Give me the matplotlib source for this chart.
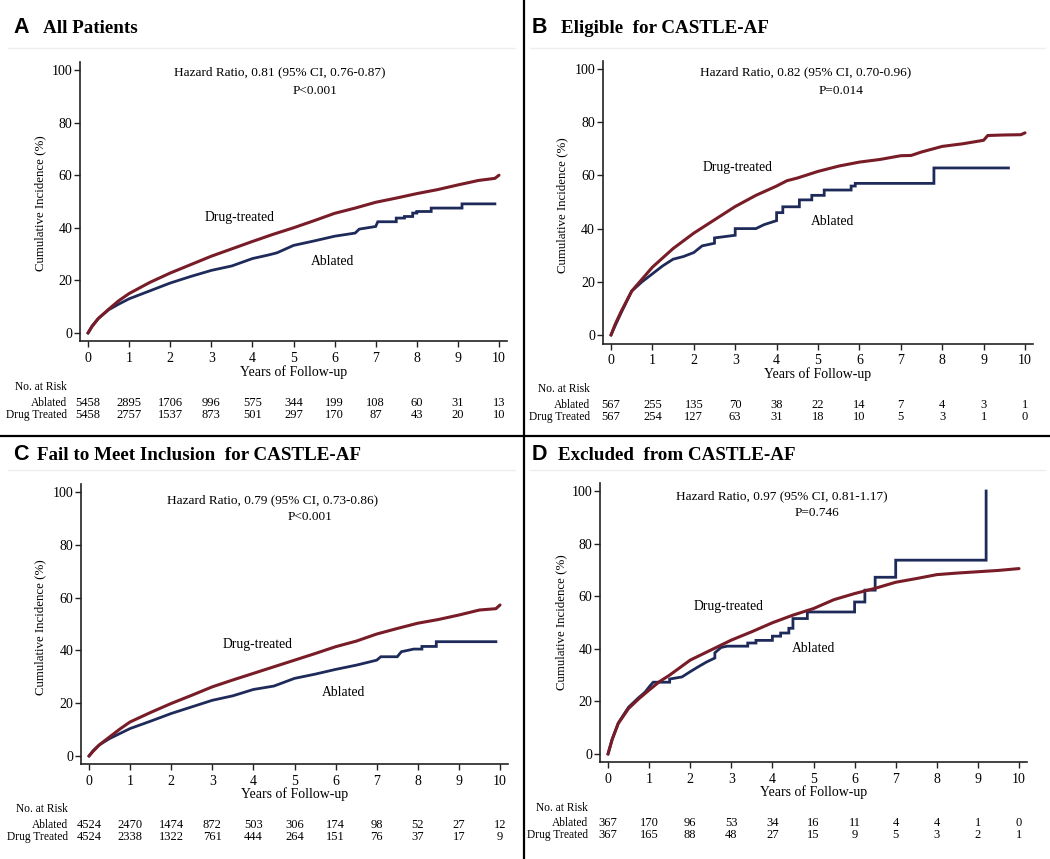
import matplotlib
matplotlib.use("Agg")
import matplotlib.pyplot as plt
from matplotlib.lines import Line2D
from matplotlib.transforms import blended_transform_factory

# ---- data ----
years = [0, 1, 2, 3, 4, 5, 6, 7, 8, 9, 10]

# Panel A: All Patients
a_drug_t = [0, 0.1, 0.25, 0.5, 0.75, 1, 1.5, 2, 2.5, 3, 3.5, 4, 4.5, 5, 5.5, 6, 6.5, 7, 7.5, 8, 8.5, 9, 9.5, 9.9, 10]
a_drug_v = [0, 2.5, 5.5, 9, 12.3, 15, 19.2, 22.8, 26, 29.2, 32, 34.8, 37.5, 40, 42.7, 45.5, 47.5, 49.7, 51.3, 53, 54.5, 56.3, 58, 58.8, 60]
a_abl_t = [0, 0.1, 0.25, 0.5, 0.75, 1, 1.5, 2, 2.5, 3, 3.5, 4, 4.4, 4.6, 5, 5.5, 6, 6.5, 6.6, 7.0, 7.05,
           7.5, 7.5, 7.7, 7.7, 7.9, 7.9, 8.0, 8.0, 8.35, 8.35, 9.1, 9.1, 9.9]
a_abl_v = [0, 2.7, 5.5, 8.8, 11, 13, 16, 19, 21.5, 23.8, 25.5, 28.3, 29.7, 30.5, 33.3, 35, 36.8, 38, 39.5, 40.5, 42.3,
           42.3, 43.7, 43.7, 44.3, 44.3, 45.6, 45.6, 46.2, 46.2, 47.5, 47.5, 49.1, 49.1]
a_risk_abl = [5458, 2895, 1706, 996, 575, 344, 199, 108, 60, 31, 13]
a_risk_drug = [5458, 2757, 1537, 873, 501, 297, 170, 87, 43, 20, 10]

# Panel B: Eligible for CASTLE-AF
b_drug_t = [0, 0.1, 0.25, 0.5, 0.75, 1, 1.25, 1.5, 2, 2.5, 3, 3.5, 4, 4.25, 4.5, 5, 5.5, 6, 6.5, 7, 7.25, 7.5, 8, 8.5, 9, 9.1, 9.5, 9.9, 10]
b_drug_v = [0, 4, 9, 16.5, 21, 25.5, 29, 32.5, 38.3, 43.3, 48.3, 52.5, 56, 58, 59, 61.5, 63.5, 65, 66, 67.4, 67.5, 68.8, 70.9, 71.9, 73.2, 75, 75.2, 75.3, 76]
b_abl_t = [0, 0.1, 0.25, 0.5, 0.75, 1, 1.25, 1.5, 1.75, 2, 2.2, 2.5, 2.5, 3.0, 3.0, 3.5, 3.7, 3.9, 4.0, 4.0, 4.15, 4.15,
           4.55, 4.55, 4.85, 4.85, 5.15, 5.15, 5.8, 5.8, 5.9, 5.9, 7.8, 7.8, 9.6]
b_abl_v = [0, 3.5, 8.5, 16.5, 20, 23, 26, 28.5, 29.5, 31, 33.5, 34.5, 36.5, 37.5, 40, 40, 41.5, 42.5, 43, 46, 46, 48.2,
           48.2, 50.8, 50.8, 52.5, 52.5, 54.5, 54.5, 56, 56, 57, 57, 62.8, 62.8]
b_risk_abl = [567, 255, 135, 70, 38, 22, 14, 7, 4, 3, 1]
b_risk_drug = [567, 254, 127, 63, 31, 18, 10, 5, 3, 1, 0]

# Panel C: Fail to Meet Inclusion for CASTLE-AF
c_drug_t = [0, 0.1, 0.25, 0.5, 0.75, 1, 1.5, 2, 2.5, 3, 3.5, 4, 4.5, 5, 5.5, 6, 6.5, 7, 7.5, 8, 8.5, 9, 9.5, 9.9, 10]
c_drug_v = [0, 1.8, 4.2, 7.2, 10.2, 12.9, 16.5, 19.9, 23, 26.2, 28.8, 31.3, 33.8, 36.3, 38.8, 41.4, 43.5, 46.2, 48.3, 50.3, 51.7, 53.4, 55.3, 55.8, 57.2]
c_abl_t = [0, 0.1, 0.25, 0.5, 0.75, 1, 1.5, 2, 2.5, 3, 3.5, 4, 4.5, 5, 5.5, 6, 6.5, 7, 7.1, 7.5, 7.6, 7.9, 8.1, 8.1, 8.45, 8.45, 9.9]
c_abl_v = [0, 2, 4.2, 6.6, 8.5, 10.4, 13.2, 16.1, 18.6, 21.1, 22.8, 25.2, 26.5, 29.4, 31, 32.8, 34.4, 36.3, 37.6, 37.6, 39.5, 40.5, 40.5, 41.5, 41.5, 43.3, 43.3]
c_risk_abl = [4524, 2470, 1474, 872, 503, 306, 174, 98, 52, 27, 12]
c_risk_drug = [4524, 2338, 1322, 761, 444, 264, 151, 76, 37, 17, 9]

# Panel D: Excluded from CASTLE-AF
d_drug_t = [0, 0.1, 0.25, 0.5, 0.75, 1, 1.25, 1.5, 2, 2.5, 3, 3.5, 4, 4.5, 5, 5.5, 6, 6.5, 7, 7.5, 8, 8.5, 9, 9.5, 10]
d_drug_v = [0, 5.5, 11.6, 17.3, 21, 24.3, 27.5, 30, 35.7, 39.5, 43.3, 46.5, 49.9, 52.8, 55.3, 58.7, 61, 63, 65.3, 66.7, 68.2, 68.8, 69.3, 69.8, 70.5]
d_abl_t = [0, 0.1, 0.25, 0.5, 0.75, 0.9, 1.0, 1.1, 1.5, 1.5, 1.8, 2.0, 2.2, 2.4, 2.6, 2.6, 2.75, 2.9, 3.4, 3.4, 3.6, 3.6, 4.0, 4.0,
           4.2, 4.2, 4.4, 4.4, 4.5, 4.5, 4.85, 4.85, 6.0, 6.0, 6.25, 6.25, 6.5, 6.5, 7.0, 7.0, 9.2, 9.2]
d_abl_v = [0, 5.5, 11.8, 17.8, 21.5, 23.5, 25.5, 27.3, 27.3, 28.5, 29.3, 31.3, 33.2, 35, 36.5, 38.5, 40.5, 41, 41, 42.2, 42.2, 43.2, 43.2, 44.8,
           44.8, 46, 46, 47.8, 47.8, 51.5, 51.5, 54, 54, 57.8, 57.8, 62.3, 62.3, 67.2, 67.2, 73.7, 73.7, 100]
d_risk_abl = [367, 170, 96, 53, 34, 16, 11, 4, 4, 1, 0]
d_risk_drug = [367, 165, 88, 48, 27, 15, 9, 5, 3, 2, 1]

RED = "#781c27"
BLUE = "#1e2b5a"
SERIF = "Liberation Serif"
SANS = "Liberation Sans"
W, H = 1050, 859

fig = plt.figure(figsize=(W / 100, H / 100), dpi=100)


def fx(px):
    return px / W


def fy(py):
    return 1 - py / H


XLIM = (-0.2, 10.2)
YLIM = (-3.2, 103)

panels = [
    dict(letter="A", title="All Patients", lx=13, tx=43, ty=33,
         anchors=(88, 499, 333, 70),
         drug=(a_drug_t, a_drug_v), abl=(a_abl_t, a_abl_v),
         risk=(a_risk_abl, a_risk_drug),
         hr="Hazard Ratio, 0.81 (95% CI, 0.76-0.87)", p="P<0.001",
         hr_xy=(4.67, 99.2), p_xy=(5.52, 92),
         drug_lab=(3.7, 44), abl_lab=(5.96, 27),
         ylab=(40, 203), xlab_y=372, risk_y=(387, 403, 415), risk_x=67),
    dict(letter="B", title="Eligible  for CASTLE-AF", lx=532, tx=561, ty=33,
         anchors=(611, 1025, 335, 69),
         drug=(b_drug_t, b_drug_v), abl=(b_abl_t, b_abl_v),
         risk=(b_risk_abl, b_risk_drug),
         hr="Hazard Ratio, 0.82 (95% CI, 0.70-0.96)", p="P=0.014",
         hr_xy=(4.69, 98.9), p_xy=(5.56, 91.7),
         drug_lab=(3.07, 62.8), abl_lab=(5.34, 42.5),
         ylab=(562, 205), xlab_y=374, risk_y=(389, 405, 417), risk_x=590),
    dict(letter="C", title="Fail to Meet Inclusion  for CASTLE-AF", lx=13, tx=37, ty=460,
         anchors=(89, 500, 756, 492),
         drug=(c_drug_t, c_drug_v), abl=(c_abl_t, c_abl_v),
         risk=(c_risk_abl, c_risk_drug),
         hr="Hazard Ratio, 0.79 (95% CI, 0.73-0.86)", p="P<0.001",
         hr_xy=(4.47, 97), p_xy=(5.38, 90.5),
         drug_lab=(4.1, 42.4), abl_lab=(6.2, 23.9),
         ylab=(40, 627), xlab_y=794, risk_y=(809, 825, 837), risk_x=68),
    dict(letter="D", title="Excluded  from CASTLE-AF", lx=532, tx=558, ty=460,
         anchors=(608, 1019, 754, 491),
         drug=(d_drug_t, d_drug_v), abl=(d_abl_t, d_abl_v),
         risk=(d_risk_abl, d_risk_drug),
         hr="Hazard Ratio, 0.97 (95% CI, 0.81-1.17)", p="P=0.746",
         hr_xy=(4.23, 98), p_xy=(5.08, 91.6),
         drug_lab=(2.94, 55.9), abl_lab=(5.0, 40),
         ylab=(561, 622), xlab_y=792, risk_y=(808, 823, 835), risk_x=588),
]

for pn in panels:
    x0, x10, y0, y100 = pn["anchors"]
    ux = (x10 - x0) / 10.0
    uy = (y0 - y100) / 100.0
    left = x0 + XLIM[0] * ux
    right = x0 + XLIM[1] * ux
    bottom = y0 - YLIM[0] * uy
    top = y0 - YLIM[1] * uy
    ax = fig.add_axes([fx(left), fy(bottom), fx(right - left), (bottom - top) / H])
    ax.set_xlim(*XLIM)
    ax.set_ylim(*YLIM)
    ax.patch.set_alpha(0)
    for s in ("top", "right"):
        ax.spines[s].set_visible(False)
    for s in ("left", "bottom"):
        ax.spines[s].set_linewidth(1.2)
        ax.spines[s].set_color("#222222")

    ax.plot(pn["abl"][0], pn["abl"][1], color=BLUE, lw=2.0, solid_joinstyle="miter")
    ax.plot(pn["drug"][0], pn["drug"][1], color=RED, lw=2.2, solid_capstyle="round")

    ax.set_xticks(years)
    ax.set_yticks([0, 20, 40, 60, 80, 100])
    ax.tick_params(direction="out", length=4, width=1, color="#222222", pad=3.5,
                   labelsize=10)
    for lab in ax.get_xticklabels() + ax.get_yticklabels():
        lab.set_family(SERIF)
    ax.tick_params(axis="y", pad=1.5)

    ax.text(*pn["hr_xy"], pn["hr"], ha="center", va="center", family=SERIF, fontsize=9.5)
    ax.text(*pn["p_xy"], pn["p"], ha="center", va="center", family=SERIF, fontsize=9.5)
    ax.text(*pn["drug_lab"], "Drug-treated", ha="center", va="center", family=SERIF, fontsize=9.8)
    ax.text(*pn["abl_lab"], "Ablated", ha="center", va="center", family=SERIF, fontsize=9.8)

    fig.text(fx(pn["ylab"][0]), fy(pn["ylab"][1]), "Cumulative Incidence (%)", rotation=90,
             ha="center", va="center", family=SERIF, fontsize=9.3)
    fig.text(fx((x0 + x10) / 2), fy(pn["xlab_y"]), "Years of Follow-up",
             ha="center", va="center", family=SERIF, fontsize=10)

    # number at risk table
    tr = blended_transform_factory(ax.transData, fig.transFigure)
    hy, ry1, ry2 = pn["risk_y"]
    fig.text(fx(pn["risk_x"]), fy(hy), "No. at Risk", ha="right", va="center",
             family=SERIF, fontsize=8.3)
    fig.text(fx(pn["risk_x"]), fy(ry1), "Ablated", ha="right", va="center",
             family=SERIF, fontsize=8.3)
    fig.text(fx(pn["risk_x"]), fy(ry2), "Drug Treated", ha="right", va="center",
             family=SERIF, fontsize=8.3)
    for yr, na, nd in zip(years, pn["risk"][0], pn["risk"][1]):
        ax.text(yr, fy(ry1), str(na), transform=tr, ha="center", va="center",
                family=SERIF, fontsize=9, clip_on=False)
        ax.text(yr, fy(ry2), str(nd), transform=tr, ha="center", va="center",
                family=SERIF, fontsize=9, clip_on=False)

    # panel heading
    fig.text(fx(pn["lx"]), fy(pn["ty"]), pn["letter"], family=SANS, fontweight="bold",
             fontsize=15.5, ha="left", va="baseline")
    fig.text(fx(pn["tx"]), fy(pn["ty"]), pn["title"], family=SERIF, fontweight="bold",
             fontsize=13.7, ha="left", va="baseline")

# faint rules under the headings
for (xa, xb, yy) in [(8, 515, 48), (530, 1045, 48), (8, 515, 470), (530, 1045, 470)]:
    fig.add_artist(Line2D([fx(xa), fx(xb)], [fy(yy), fy(yy)], color="#eeeeee", lw=1))

# panel separators
fig.add_artist(Line2D([fx(524), fx(524)], [0, 1], color="black", lw=1.6))
fig.add_artist(Line2D([0, 1], [fy(436), fy(436)], color="black", lw=1.6))

fig.savefig("out.png", dpi=100)
